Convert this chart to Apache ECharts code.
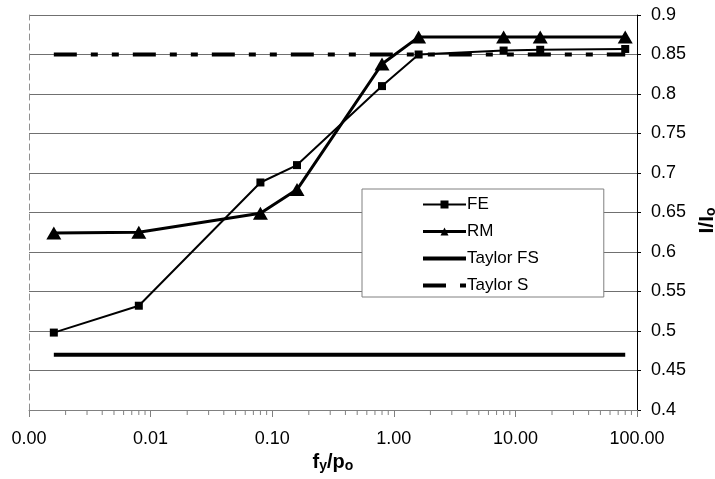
<!DOCTYPE html>
<html>
<head>
<meta charset="utf-8">
<script src="https://cdn.jsdelivr.net/npm/echarts@6/dist/echarts.min.js"></script>
<style>
html,body{margin:0;padding:0;background:#fff;}
#chart{width:715px;height:479px;}
</style>
</head>
<body>
<div id="chart"></div>
<script>
const xValues = [0.0016, 0.008, 0.08, 0.16, 0.8, 1.6, 8, 16, 80];
const feValues = [0.498, 0.532, 0.688, 0.71, 0.81, 0.85, 0.855, 0.856, 0.857];
const rmValues = [0.624, 0.625, 0.649, 0.679, 0.838, 0.872, 0.872, 0.872, 0.872];
const taylorFSx = [0.0016, 80];
const taylorFSy = [0.47, 0.47];
const taylorSx = [0.0016, 80];
const taylorSy = [0.85, 0.85];
const seriesNames = ['FE', 'RM', 'Taylor FS', 'Taylor S'];
const yMin = 0.4, yMax = 0.9, yStep = 0.05;
const xMin = 0.001, xMax = 100;
const minorMultipliers = [2, 3, 4, 5, 6, 7, 8, 9];
const decades = [0.001, 0.01, 0.1, 1, 10];

const pair = (xs, ys) => xs.map((x, i) => [x, ys[i]]);
const minorTickData = [];
decades.forEach(d => minorMultipliers.forEach(m => minorTickData.push([d * m, yMin])));

const FONT = '"Liberation Sans", Arial, sans-serif';
const chart = echarts.init(document.getElementById('chart'), null, {renderer: 'canvas'});

const taylorSDash = [23, 14, 7, 14, 7, 14];

chart.setOption({
  animation: false,
  backgroundColor: '#fff',
  textStyle: {fontFamily: FONT},
  grid: {left: 29, right: 78, top: 15, bottom: 69, containLabel: false, outerBoundsMode: 'none'},
  legend: {
    data: [
      {name: seriesNames[0], lineStyle: {width: 2, color: '#000'}},
      {name: seriesNames[1], lineStyle: {width: 3, color: '#000'}},
      {name: seriesNames[2], lineStyle: {width: 4, color: '#000'}, itemStyle: {opacity: 0}},
      {name: seriesNames[3], lineStyle: {width: 4, color: '#000', type: taylorSDash}, itemStyle: {opacity: 0}}
    ],
    orient: 'vertical',
    left: 362,
    top: 189,
    itemWidth: 43,
    itemHeight: 10,
    itemGap: 10,
    padding: [7, 65, 3, 59],
    backgroundColor: '#fff',
    borderColor: '#808080',
    borderWidth: 1,
    textStyle: {fontFamily: FONT, fontSize: 17, color: '#000', padding: [0, 0, 0, -4]}
  },
  xAxis: {
    type: 'log',
    logBase: 10,
    min: xMin,
    max: xMax,
    name: '{f|f}{s|y}{f|/p}{s|o}',
    nameLocation: 'middle',
    nameGap: 42,
    nameTextStyle: {
      rich: {
        f: {fontFamily: FONT, fontSize: 20, fontWeight: 'bold', color: '#000'},
        s: {fontFamily: FONT, fontSize: 14, fontWeight: 'bold', color: '#000', verticalAlign: 'bottom', padding: [6, 0, 0, 0]}
      }
    },
    axisLine: {show: true, lineStyle: {color: '#808080', width: 1}},
    axisTick: {show: true, length: 7, lineStyle: {color: '#808080'}},
    splitLine: {show: false},
    minorTick: {show: false},
    axisLabel: {
      fontFamily: FONT, fontSize: 18, color: '#000', margin: 20,
      formatter: v => Number(v).toFixed(2)
    }
  },
  yAxis: [{
    type: 'value',
    position: 'right',
    min: yMin,
    max: yMax,
    interval: yStep,
    name: '{f|I/I}{s|o}',
    nameLocation: 'middle',
    nameRotate: 90,
    nameGap: 57,
    nameTextStyle: {
      padding: [0, 16, 0, 0],
      rich: {
        f: {fontFamily: FONT, fontSize: 21, fontWeight: 'bold', color: '#000'},
        s: {fontFamily: FONT, fontSize: 14, fontWeight: 'bold', color: '#000', verticalAlign: 'bottom', padding: [6, 0, 0, 0]}
      }
    },
    axisLine: {show: true, lineStyle: {color: '#000', width: 1}},
    axisTick: {show: true, inside: false, length: 4, lineStyle: {color: '#000'}},
    splitLine: {show: true, lineStyle: {color: '#707070', width: 1}},
    axisLabel: {fontFamily: FONT, fontSize: 18, color: '#000', margin: 14}
  }, {
    type: 'value',
    position: 'left',
    min: yMin,
    max: yMax,
    interval: yStep,
    axisLine: {show: true, lineStyle: {color: '#909090', width: 1, type: [6, 4]}},
    axisTick: {show: false},
    axisLabel: {show: false},
    splitLine: {show: false}
  }],
  series: [
    {
      name: 'FE', type: 'line', yAxisIndex: 0,
      data: pair(xValues, feValues),
      symbol: 'rect', symbolSize: 8,
      lineStyle: {color: '#000', width: 2},
      itemStyle: {color: '#000'},
      z: 4
    },
    {
      name: 'RM', type: 'line', yAxisIndex: 0,
      data: pair(xValues, rmValues),
      symbol: 'triangle', symbolSize: [15, 13],
      lineStyle: {color: '#000', width: 3},
      itemStyle: {color: '#000'},
      z: 5
    },
    {
      name: 'Taylor FS', type: 'line', yAxisIndex: 0,
      data: pair(taylorFSx, taylorFSy),
      symbol: 'none', showSymbol: false,
      lineStyle: {color: '#000', width: 4},
      itemStyle: {color: '#000'},
      z: 3
    },
    {
      name: 'Taylor S', type: 'line', yAxisIndex: 0,
      data: pair(taylorSx, taylorSy),
      symbol: 'none', showSymbol: false,
      lineStyle: {color: '#000', width: 4, type: taylorSDash, cap: 'butt'},
      itemStyle: {color: '#000'},
      z: 3
    },
    {
      name: 'minorTicks', type: 'custom', yAxisIndex: 0,
      silent: true, clip: false,
      data: minorTickData,
      renderItem: (params, api) => {
        const p = api.coord([api.value(0), api.value(1)]);
        return {
          type: 'line',
          shape: {x1: p[0], y1: p[1], x2: p[0], y2: p[1] + 5},
          style: {stroke: '#808080', lineWidth: 1}
        };
      }
    }
  ]
});
</script>
</body>
</html>
